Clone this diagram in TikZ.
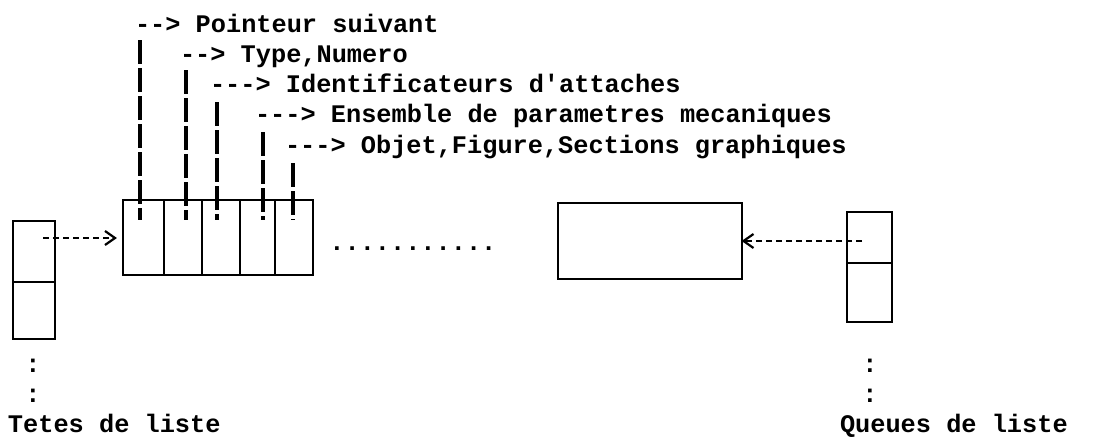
\documentclass[tikz,border=0pt]{standalone}
\usepackage{fontspec}
\setmonofont{Liberation Mono}
\begin{document}
\begin{tikzpicture}[x=1pt,y=-1pt,
  cell/.style={draw, line width=2.2pt, inner sep=0pt, outer sep=0pt},
  ptr/.style={line width=3.6pt, dash pattern=on 24pt off 4pt},
  link/.style={line width=1.2pt, dash pattern=on 6pt off 4pt},
  tipmark/.style={line width=2.2pt, solid, line join=miter},
  lbl/.style={font=\ttfamily\bfseries\fontsize{25.3}{30}\selectfont, anchor=base west, inner sep=0pt, outer sep=0pt},
  colon/.style={font=\ttfamily\bfseries\fontsize{25.3}{30}\selectfont, anchor=base, inner sep=0pt}]
\useasboundingbox (0,0) rectangle (1099,437);
% list heads column
\node[cell, minimum width=42pt, minimum height=61pt] (L1) at (34,251.5) {};
\node[cell, minimum width=42pt, minimum height=57pt] (L2) at (34,310.5) {};
% first record
\node[cell, minimum width=41pt, minimum height=75pt] (M1) at (143.5,237.5) {};
\node[cell, minimum width=38pt, minimum height=75pt] (M2) at (183,237.5) {};
\node[cell, minimum width=38pt, minimum height=75pt] (M3) at (221,237.5) {};
\node[cell, minimum width=35pt, minimum height=75pt] (M4) at (257.5,237.5) {};
\node[cell, minimum width=38pt, minimum height=75pt] (M5) at (294,237.5) {};
% last record
\node[cell, minimum width=184pt, minimum height=76pt] (R) at (650,241) {};
% list tails column
\node[cell, minimum width=45pt, minimum height=51pt] (Q1) at (869.5,237.5) {};
\node[cell, minimum width=45pt, minimum height=59pt] (Q2) at (869.5,292.5) {};
% dots between records
\node[lbl] (dots) at (329.4,250) {...........};
% field labels
\node[lbl] (t1) at (135,32) {--> Pointeur suivant};
\node[lbl] (t2) at (180,62) {--> Type,Numero};
\node[lbl] (t3) at (210,92) {---> Identificateurs d'attaches};
\node[lbl] (t4) at (255,122) {---> Ensemble de parametres mecaniques};
\node[lbl] (t5) at (285,153) {---> Objet,Figure,Sections graphiques};
% pointer lines
\coordinate (p1a) at (140,40);  \coordinate (p1b) at (140,220);
\coordinate (p2a) at (186,70);  \coordinate (p2b) at (186,220);
\coordinate (p3a) at (217,102); \coordinate (p3b) at (217,220);
\coordinate (p4a) at (263,132); \coordinate (p4b) at (263,220);
\coordinate (p5a) at (293,163); \coordinate (p5b) at (293,220);
\draw[ptr] (p1a) -- (p1b);
\draw[ptr] (p2a) -- (p2b);
\draw[ptr] (p3a) -- (p3b);
\draw[ptr] (p4a) -- (p4b);
\draw[ptr] (p5a) -- (p5b);
% links
\coordinate (hs) at (43,238);
\coordinate (he) at (115,238);
\draw[link] (hs) -- (he);
\draw[tipmark] ([shift={(-10,-7)}]he) -- (he) -- ([shift={(-10,7)}]he);
\coordinate (qs) at (862,241);
\coordinate (qe) at ([xshift=1.5pt]R.east);
\draw[link] (qs) -- (qe);
\draw[tipmark] ([shift={(10,-7)}]qe) -- (qe) -- ([shift={(10,7)}]qe);
% continuation marks and captions
\node[colon] (c1) at (33,372) {:};
\node[colon] (c2) at (33,402) {:};
\node[lbl] (heads) at (8,432) {Tetes de liste};
\node[colon] (c3) at (870,372) {:};
\node[colon] (c4) at (870,402) {:};
\node[lbl] (tails) at (840,432) {Queues de liste};
\end{tikzpicture}
\end{document}
